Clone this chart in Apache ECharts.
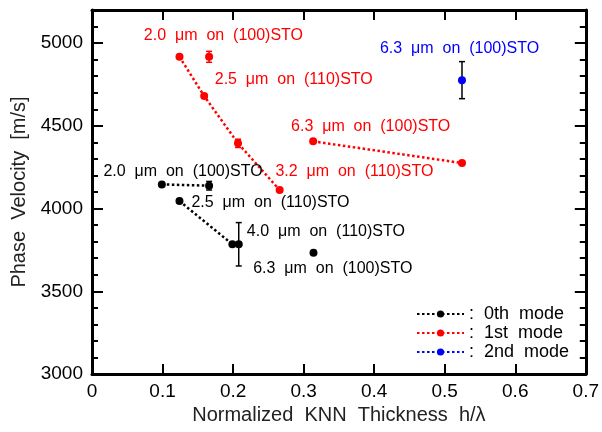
<!DOCTYPE html>
<html>

<head>
    <title>Phase Velocity vs Normalized KNN Thickness</title>
    <meta charset="utf-8">
    <script src="https://cdn.jsdelivr.net/npm/echarts@6/dist/echarts.min.js"></script>
</head>

<body style="margin:0">
    <!-- chart container -->
    <div id="main" style="width: 602px;height:432px;"></div>

    <script type="text/javascript">
        var myChart = echarts.init(document.getElementById('main'));

        // 0th mode (black) points, [h/lambda, velocity]
        var mode0LineA = [[0.099, 4146], [0.166, 4138]];
        var mode0LineB = [[0.124, 4045], [0.199, 3784], [0.208, 3784]];
        var mode0Single = [[0.314, 3733]];

        // 1st mode (red)
        var mode1LineA = [[0.124, 4917], [0.159, 4680], [0.207, 4394], [0.266, 4112]];
        var mode1LineB = [[0.3135, 4406], [0.5245, 4275]];
        var mode1Single = [[0.166, 4917]];

        // 2nd mode (blue)
        var mode2Points = [[0.5245, 4776]];

        // error bars, [x, y, +/- error]
        var errorBlack = [[0.166, 4138, 26], [0.208, 3784, 131], [0.5245, 4776, 112]];
        var errorRed = [[0.166, 4917, 33], [0.207, 4394, 25]];

        // annotations, [x, y, text]
        var labelsBlack = [
            [0.129, 4222, '2.0  \u03bcm  on  (100)STO'],
            [0.253, 4037, '2.5  \u03bcm  on  (110)STO'],
            [0.3315, 3860, '4.0  \u03bcm  on  (110)STO'],
            [0.3414, 3639, '6.3  \u03bcm  on  (100)STO']
        ];
        var labelsRed = [
            [0.1863, 5048, '2.0  \u03bcm  on  (100)STO'],
            [0.286, 4782, '2.5  \u03bcm  on  (110)STO'],
            [0.395, 4494, '6.3  \u03bcm  on  (100)STO'],
            [0.372, 4222, '3.2  \u03bcm  on  (110)STO']
        ];
        var labelsBlue = [
            [0.521, 4968, '6.3  \u03bcm  on  (100)STO']
        ];

        var legendNames = ['0th mode', '1st mode', '2nd mode'];
        var xTicks = { min: 0, max: 0.7, interval: 0.1 };
        var yTicks = { min: 3000, max: 5200, major: 500, minor: 100 };

        var FONT = 'Liberation Sans';
        var BLACK = '#000';
        var RED = '#ff0000';
        var BLUE = '#0000ff';

        function lineSeries(name, data, color) {
            return {
                name: name,
                type: 'line',
                data: data,
                symbol: 'circle',
                symbolSize: 8,
                itemStyle: { color: color, opacity: 1 },
                lineStyle: { color: color, width: 2.5, type: [2.5, 2.5] },
                z: 3
            };
        }

        function pointSeries(name, data, color) {
            return {
                name: name,
                type: 'scatter',
                data: data,
                symbol: 'circle',
                symbolSize: 8,
                itemStyle: { color: color, opacity: 1 },
                z: 3
            };
        }

        function renderErrorBar(params, api) {
            var x = api.value(0), y = api.value(1), e = api.value(2);
            var top = api.coord([x, y + e]);
            var bot = api.coord([x, y - e]);
            var cap = 3;
            var style = { stroke: api.visual('color'), lineWidth: 1.5 };
            return {
                type: 'group',
                children: [
                    { type: 'line', shape: { x1: top[0], y1: top[1], x2: bot[0], y2: bot[1] }, style: style },
                    { type: 'line', shape: { x1: top[0] - cap, y1: top[1], x2: top[0] + cap, y2: top[1] }, style: style },
                    { type: 'line', shape: { x1: bot[0] - cap, y1: bot[1], x2: bot[0] + cap, y2: bot[1] }, style: style }
                ]
            };
        }

        function errorSeries(data, color) {
            return {
                type: 'custom',
                data: data,
                renderItem: renderErrorBar,
                itemStyle: { color: color },
                encode: { x: 0, y: 1 },
                z: 2
            };
        }

        function labelSeries(data, color) {
            return {
                type: 'scatter',
                data: data,
                symbolSize: 1,
                itemStyle: { color: 'rgba(0,0,0,0)', opacity: 1 },
                silent: true,
                label: {
                    show: true,
                    position: 'inside',
                    color: color,
                    fontFamily: FONT,
                    fontSize: 16,
                    formatter: function (p) { return p.data[2]; }
                },
                z: 4
            };
        }

        function yAxisPart(position, interval, tickLen, isMain) {
            return {
                type: 'value',
                position: position,
                min: yTicks.min,
                max: yTicks.max,
                interval: interval,
                axisLine: { show: isMain, lineStyle: { color: BLACK, width: 3 } },
                axisTick: { show: true, inside: true, length: tickLen, lineStyle: { color: BLACK, width: 2 } },
                axisLabel: {
                    show: isMain && position === 'left',
                    color: BLACK,
                    fontFamily: FONT,
                    fontSize: 19,
                    margin: 9,
                    formatter: function (v) { return v % yTicks.major === 0 ? v : ''; }
                },
                splitLine: { show: false }
            };
        }

        var yLeft = yAxisPart('left', yTicks.minor, 6, true);
        yLeft.name = 'Phase  Velocity  [m/s]';
        yLeft.nameLocation = 'middle';
        yLeft.nameGap = 57;
        yLeft.nameTextStyle = { color: '#222', fontFamily: FONT, fontSize: 20 };

        var option = {
            animation: false,
            backgroundColor: '#fff',
            grid: { left: 92, right: 16, top: 10, bottom: 58 },
            legend: {
                data: legendNames,
                orient: 'vertical',
                left: 411,
                top: 300,
                itemWidth: 47,
                itemHeight: 9,
                itemGap: 1,
                formatter: function (name) { return ':  ' + name.replace(' ', '  '); },
                textStyle: { color: BLACK, fontFamily: FONT, fontSize: 18 }
            },
            xAxis: [{
                type: 'value',
                position: 'bottom',
                min: xTicks.min,
                max: xTicks.max,
                interval: xTicks.interval,
                axisLine: { lineStyle: { color: BLACK, width: 3 } },
                axisTick: { inside: true, length: 10, lineStyle: { color: BLACK, width: 2 } },
                axisLabel: { color: BLACK, fontFamily: FONT, fontSize: 19, margin: 8 },
                splitLine: { show: false },
                name: 'Normalized  KNN  Thickness  h/\u03bb',
                nameLocation: 'middle',
                nameGap: 29,
                nameTextStyle: { color: '#222', fontFamily: FONT, fontSize: 20 }
            }, {
                type: 'value',
                position: 'top',
                min: xTicks.min,
                max: xTicks.max,
                interval: xTicks.interval,
                axisLine: { lineStyle: { color: BLACK, width: 3 } },
                axisTick: { inside: true, length: 10, lineStyle: { color: BLACK, width: 2 } },
                axisLabel: { show: false },
                splitLine: { show: false }
            }],
            yAxis: [
                yLeft,
                yAxisPart('left', yTicks.major, 11, false),
                yAxisPart('right', yTicks.minor, 6, true),
                yAxisPart('right', yTicks.major, 11, false)
            ],
            series: [
                lineSeries('0th mode', mode0LineA, BLACK),
                lineSeries('1st mode', mode1LineA, RED),
                lineSeries('2nd mode', mode2Points, BLUE),
                lineSeries('0th mode', mode0LineB, BLACK),
                lineSeries('1st mode', mode1LineB, RED),
                pointSeries('0th mode', mode0Single, BLACK),
                pointSeries('1st mode', mode1Single, RED),
                errorSeries(errorBlack, BLACK),
                errorSeries(errorRed, RED),
                labelSeries(labelsBlack, BLACK),
                labelSeries(labelsRed, RED),
                labelSeries(labelsBlue, BLUE)
            ]
        };

        myChart.setOption(option);
    </script>
</body>

</html>
